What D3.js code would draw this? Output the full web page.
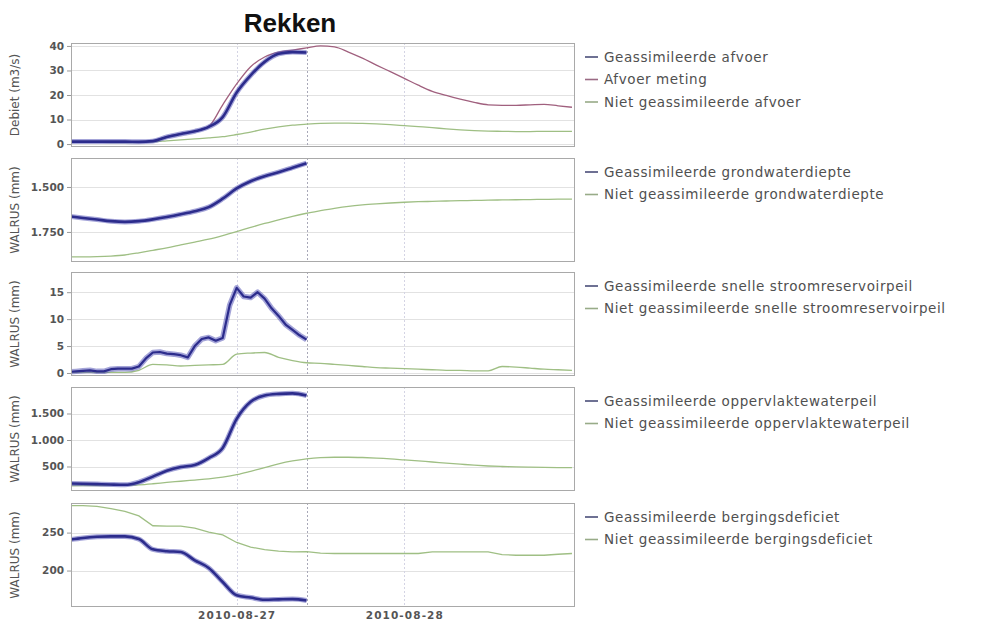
<!DOCTYPE html>
<html>
<head>
<meta charset="utf-8">
<script src="https://cdn.jsdelivr.net/npm/d3@7"></script>
<style>
  body { margin: 0; background: #fff; }
  svg { display: block; }
  text { font-family: "DejaVu Sans", sans-serif; }
</style>
</head>
<body>
<svg id="chart" width="1006" height="623"></svg>
<script>
// ---- Time base (hours after 2010-08-26 00:00) ----
const startTijd = new Date(2010, 7, 26, 0, 0);
const uren2 = d3.range(0, 73, 2);      // 2-hourly, full period
const urenAssim = d3.range(0, 35, 2);  // 2-hourly, assimilation period
const urenAssimUur = d3.range(0, 35, 1); // hourly, assimilation period
const tijdVenster = [new Date(2010, 7, 26, 0, 17), new Date(2010, 7, 29, 0, 26)];
const verwachtingStart = new Date(2010, 7, 27, 10, 0);
const datumTicks = [new Date(2010, 7, 27), new Date(2010, 7, 28)];

// ---- Debiet (m3/s) ----
const afvoerGeas = [1.0, 1.0, 1.0, 1.0, 1.0, 0.9, 1.2, 2.9, 4.1, 5.2, 7.0, 11, 21, 28, 33.5, 36.8, 37.5, 37.3];
const afvoerMeting = [0.8, 0.8, 0.8, 0.8, 0.8, 0.9, 1.2, 3.0, 4.2, 5.2, 7.2, 16, 24.5, 31.5, 35.5, 37.5, 38.3, 39.2, 40, 39.6, 37.5, 35, 32.2, 29.5, 26.8, 24, 21.5, 19.8, 18.3, 17, 16, 15.8, 15.8, 16, 16.2, 15.6, 15];
const afvoerNiet = [0.8, 0.8, 0.7, 0.6, 0.6, 0.7, 0.9, 1.3, 1.7, 2.1, 2.5, 3.0, 3.9, 4.9, 6.1, 7.0, 7.7, 8.1, 8.4, 8.5, 8.5, 8.4, 8.2, 7.9, 7.5, 7.1, 6.7, 6.2, 5.8, 5.5, 5.3, 5.2, 5.1, 5.1, 5.2, 5.2, 5.2];

// ---- Grondwaterdiepte (mm) ----
const grondGeas = [1663, 1672, 1681, 1690, 1694, 1690, 1680, 1667, 1652, 1635, 1612, 1565, 1508, 1468, 1440, 1418, 1393, 1368];
const grondNiet = [1888, 1888, 1887, 1884, 1878, 1866, 1852, 1838, 1822, 1806, 1790, 1770, 1748, 1725, 1703, 1683, 1663, 1646, 1632, 1619, 1608, 1600, 1594, 1589, 1585, 1582, 1580, 1578, 1576, 1575, 1573, 1572, 1571, 1570, 1569, 1568, 1568];

// ---- Snelle stroomreservoirpeil (mm) ----
const snelGeas = [0.2, 0.3, 0.4, 0.5, 0.3, 0.3, 0.7, 0.8, 0.8, 0.8, 1.2, 2.7, 3.8, 3.9, 3.6, 3.5, 3.3, 2.9, 5.0, 6.3, 6.6, 6.0, 6.5, 12.6, 15.8, 14.2, 14.0, 15.0, 13.8, 12.0, 10.6, 9.0, 8.0, 7.0, 6.2];
const snelNiet = [0.1, 0.1, 0.1, 0.1, 0.1, 0.5, 1.6, 1.5, 1.3, 1.4, 1.5, 1.6, 3.5, 3.7, 3.8, 2.9, 2.3, 1.9, 1.8, 1.6, 1.4, 1.2, 1.0, 0.9, 0.8, 0.7, 0.6, 0.5, 0.5, 0.4, 0.4, 1.2, 1.1, 0.9, 0.7, 0.6, 0.5];

// ---- Oppervlaktewaterpeil (mm) ----
const oppGeas = [180, 175, 168, 160, 155, 205, 310, 420, 490, 530, 660, 850, 1400, 1720, 1840, 1870, 1880, 1840];
const oppNiet = [135, 138, 140, 143, 146, 155, 175, 200, 222, 245, 268, 300, 345, 410, 480, 550, 605, 645, 668, 675, 675, 670, 660, 645, 625, 605, 585, 565, 545, 525, 510, 500, 492, 487, 483, 480, 478];

// ---- Bergingsdeficiet (mm) ----
const bergGeas = [240.5, 243, 244.5, 245, 245, 241.5, 228, 225.5, 224.5, 213.5, 203.5, 185, 167.5, 164.5, 161.5, 162, 162.4, 160.6];
const bergNiet = [285.5, 285.5, 284.5, 281.5, 278, 272, 259, 258.5, 258.5, 256, 250.5, 247, 237, 231, 227.5, 225.5, 224.5, 225, 223, 222.5, 222.5, 222.5, 222.5, 222.5, 222.5, 222.5, 224.5, 224.7, 224.7, 224.7, 224.7, 221, 220.2, 220.2, 220.2, 221.5, 222.5];

// ---- Axis ticks and labels ----
const titel = "Rekken";
const yTitels = ["Debiet (m3/s)", "WALRUS (mm)", "WALRUS (mm)", "WALRUS (mm)", "WALRUS (mm)"];
const yTicks = [[0, 10, 20, 30, 40], [1500, 1750], [0, 5, 10, 15], [500, 1000, 1500], [200, 250]];
const yBereik = [[-1.2, 41.2], [1917, 1339], [-0.56, 18.75], [38, 2000], [152, 289]];
const legendaTeksten = [
  ["Geassimileerde afvoer", "Afvoer meting", "Niet geassimileerde afvoer"],
  ["Geassimileerde grondwaterdiepte", "Niet geassimileerde grondwaterdiepte"],
  ["Geassimileerde snelle stroomreservoirpeil", "Niet geassimileerde snelle stroomreservoirpeil"],
  ["Geassimileerde oppervlaktewaterpeil", "Niet geassimileerde oppervlaktewaterpeil"],
  ["Geassimileerde bergingsdeficiet", "Niet geassimileerde bergingsdeficiet"]
];

// ---- Styling ----
const kleurGeas = "#2c2c8c";
const kleurGeasHalo = "#5a5ab8";
const kleurMeting = "#a0607e";
const kleurNiet = "#9fbf84";
const legendaKleuren = [
  ["#4a4d78", "#9a6a84", "#98ab88"],
  ["#4a4d78", "#98ab88"],
  ["#4a4d78", "#98ab88"],
  ["#4a4d78", "#98ab88"],
  ["#4a4d78", "#98ab88"]
];

const nl = d3.formatLocale({ decimal: ",", thousands: ".", grouping: [3], currency: ["€", ""] });
const fmt = nl.format(",");

const svg = d3.select("#chart");
const left = 71, right = 575;
const panelTops = [43, 158, 272, 387, 503];
const panelH = 104;

const x = d3.scaleTime().domain(tijdVenster).range([left, right]);
const tijd = h => new Date(startTijd.getTime() + h * 3600e3);

function reeks(uren, waarden) {
  return uren.map((h, i) => ({ t: tijd(h), v: waarden[i] }));
}

const panels = [
  { series: [
      { d: reeks(uren2, afvoerNiet), type: "niet" },
      { d: reeks(uren2, afvoerMeting), type: "meting" },
      { d: reeks(urenAssim, afvoerGeas), type: "geas" }
  ]},
  { series: [
      { d: reeks(uren2, grondNiet), type: "niet" },
      { d: reeks(urenAssim, grondGeas), type: "geas" }
  ]},
  { series: [
      { d: reeks(uren2, snelNiet), type: "niet" },
      { d: reeks(urenAssimUur, snelGeas), type: "geas", wide: true, sharp: true }
  ]},
  { series: [
      { d: reeks(uren2, oppNiet), type: "niet" },
      { d: reeks(urenAssim, oppGeas), type: "geas" }
  ]},
  { series: [
      { d: reeks(uren2, bergNiet), type: "niet", sharp: true },
      { d: reeks(urenAssim, bergGeas), type: "geas" }
  ]}
];

// Title
svg.append("text")
  .attr("x", 290).attr("y", 32)
  .attr("text-anchor", "middle")
  .style("font-family", "'Liberation Sans', Arial, sans-serif")
  .style("font-weight", "bold")
  .style("font-size", "26px")
  .attr("fill", "#111")
  .text(titel);

panels.forEach((p, pi) => {
  const top = panelTops[pi], bottom = top + panelH;
  const y = d3.scaleLinear().domain(yBereik[pi]).range([bottom, top]);
  const g = svg.append("g");

  const clipId = "clip" + pi;
  svg.append("clipPath").attr("id", clipId)
    .append("rect").attr("x", left).attr("y", top).attr("width", right - left).attr("height", panelH);

  // background
  g.append("rect").attr("x", left).attr("y", top).attr("width", right - left).attr("height", panelH)
    .attr("fill", "#fff");

  // horizontal grid
  g.selectAll(".hg").data(yTicks[pi]).join("line")
    .attr("x1", left).attr("x2", right)
    .attr("y1", d => Math.round(y(d)) + 0.5).attr("y2", d => Math.round(y(d)) + 0.5)
    .attr("stroke", "#e2e2e2").attr("stroke-width", 1);

  // vertical day grid
  g.selectAll(".vg").data(datumTicks).join("line")
    .attr("x1", d => Math.round(x(d)) + 0.5).attr("x2", d => Math.round(x(d)) + 0.5)
    .attr("y1", top).attr("y2", bottom)
    .attr("stroke", "#d4d4e4").attr("stroke-width", 1).attr("stroke-dasharray", "2,2");

  // forecast start marker
  g.append("line")
    .attr("x1", Math.round(x(verwachtingStart)) + 0.5).attr("x2", Math.round(x(verwachtingStart)) + 0.5)
    .attr("y1", top).attr("y2", bottom)
    .attr("stroke", "#a8a8b8").attr("stroke-width", 1).attr("stroke-dasharray", "2,2");

  // y axis
  const yAxis = d3.axisLeft(y).tickValues(yTicks[pi]).tickSize(4).tickPadding(3).tickFormat(fmt);
  const ax = g.append("g").attr("transform", `translate(${left},0)`).call(yAxis);
  ax.select(".domain").remove();
  ax.selectAll(".tick line").attr("stroke", "#999");
  ax.selectAll(".tick text").attr("fill", "#555").style("font-size", "10.5px").style("font-weight", "bold");

  // y title
  const yt = pi === 0 ? 95 : (top + bottom) / 2;
  g.append("text")
    .attr("transform", `translate(19,${yt}) rotate(-90)`)
    .attr("text-anchor", "middle")
    .attr("fill", "#555")
    .style("font-size", "12px")
    .text(yTitels[pi]);

  // series
  const lg = g.append("g").attr("clip-path", `url(#${clipId})`);
  p.series.forEach(s => {
    const line = d3.line().x(d => x(d.t)).y(d => y(d.v))
      .curve(s.sharp ? d3.curveLinear : d3.curveMonotoneX);
    if (s.type === "geas") {
      lg.append("path").datum(s.d).attr("d", line)
        .attr("fill", "none").attr("stroke", kleurGeasHalo)
        .attr("stroke-width", s.wide ? 5.5 : 5).attr("stroke-opacity", 0.55)
        .attr("stroke-linejoin", "round");
      lg.append("path").datum(s.d).attr("d", line)
        .attr("fill", "none").attr("stroke", kleurGeas)
        .attr("stroke-width", s.wide ? 2.2 : 2.6)
        .attr("stroke-linejoin", "round");
    } else {
      lg.append("path").datum(s.d).attr("d", line)
        .attr("fill", "none")
        .attr("stroke", s.type === "meting" ? kleurMeting : kleurNiet)
        .attr("stroke-width", 1.3);
    }
  });

  // frame
  g.append("rect").attr("x", left + 0.5).attr("y", top + 0.5)
    .attr("width", right - left - 1).attr("height", panelH - 1)
    .attr("fill", "none").attr("stroke", "#a9a9a9").attr("stroke-width", 1);

  // legend
  legendaTeksten[pi].forEach((t, i) => {
    const ly = top + 14 + 22.5 * i;
    g.append("line").attr("x1", 585).attr("x2", 598).attr("y1", ly).attr("y2", ly)
      .attr("stroke", legendaKleuren[pi][i]).attr("stroke-width", 1.6);
    g.append("text").attr("x", 604).attr("y", ly).attr("dy", "0.36em")
      .attr("fill", "#505050").style("font-size", "13.5px")
      .style("letter-spacing", "0.6px")
      .text(t);
  });
});

// x axis labels
const bottomLast = panelTops[4] + panelH;
const xAxis = d3.axisBottom(x).tickValues(datumTicks).tickSize(0).tickPadding(5)
  .tickFormat(d3.timeFormat("%Y-%m-%d"));
const xa = svg.append("g").attr("transform", `translate(0,${bottomLast})`).call(xAxis);
xa.select(".domain").remove();
xa.selectAll(".tick text").attr("fill", "#555").style("font-size", "10.5px")
  .style("letter-spacing", "1.1px").style("font-weight", "bold");
</script>
</body>
</html>
